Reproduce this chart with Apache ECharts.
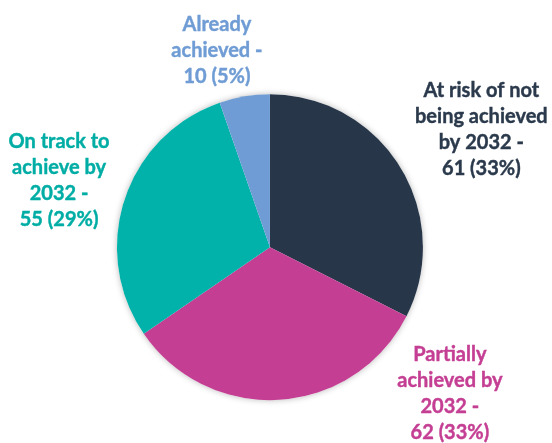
<!DOCTYPE html>
<html>
<head>
<meta charset="utf-8">
<script src="https://cdn.jsdelivr.net/npm/echarts@6/dist/echarts.min.js"></script>
<style>
  html, body { margin: 0; padding: 0; background: #ffffff; }
  #chart { width: 552px; height: 443px; }
</style>
</head>
<body>
<div id="chart"></div>
<script>
// Status of targets, clockwise from 12 o'clock
const categories = [
  'At risk of not\nbeing achieved\nby 2032',
  'Partially\nachieved by\n2032',
  'On track to\nachieve by\n2032',
  'Already\nachieved'
];
const values = [61, 62, 55, 10];
const sliceColors = ['#273649', '#C43E93', '#00B2A9', '#6F9CD4'];
const labelColors = ['#2A394B', '#C43E93', '#00ADA5', '#6F9CD4'];

// label anchor points (fractions of chart width / height)
const labelAnchors = [
  [0.872, 0.293],
  [0.815, 0.888],
  [0.107, 0.407],
  [0.393, 0.113]
];

const chart = echarts.init(document.getElementById('chart'), null, { renderer: 'canvas' });
const total = values.reduce((a, b) => a + b, 0);

chart.setOption({
  animation: false,
  backgroundColor: '#ffffff',
  series: [
    {
      // soft halo behind the pie
      type: 'pie',
      silent: true,
      z: 1,
      center: ['48.9%', '55.8%'],
      radius: 153,
      label: { show: false },
      labelLine: { show: false },
      data: [{ value: total, itemStyle: { color: '#ffffff', shadowBlur: 6, shadowColor: 'rgba(0,0,0,0.28)' } }]
    },
    {
      type: 'pie',
      z: 2,
      center: ['48.9%', '55.8%'],
      radius: 153,
      startAngle: 90,
      clockwise: true,
      percentPrecision: 0,
      itemStyle: { borderWidth: 0 },
      labelLine: { show: false },
      label: {
        show: true,
        position: 'outside',
        overflow: 'none',
        formatter: '{b} -\n{c} ({d}%)',
        fontFamily: 'Lato',
        fontWeight: 'bold',
        fontSize: 20,
        lineHeight: 26,
        align: 'center',
        textBorderWidth: 0.4
      },
      labelLayout: function (params) {
        const a = labelAnchors[params.dataIndex];
        return {
          x: a[0] * 552,
          y: a[1] * 443,
          align: 'center',
          verticalAlign: 'middle'
        };
      },
      data: categories.map((name, i) => ({
        name: name,
        value: values[i],
        itemStyle: { color: sliceColors[i] },
        label: { color: labelColors[i], textBorderColor: labelColors[i] }
      }))
    }
  ]
});
</script>
</body>
</html>
